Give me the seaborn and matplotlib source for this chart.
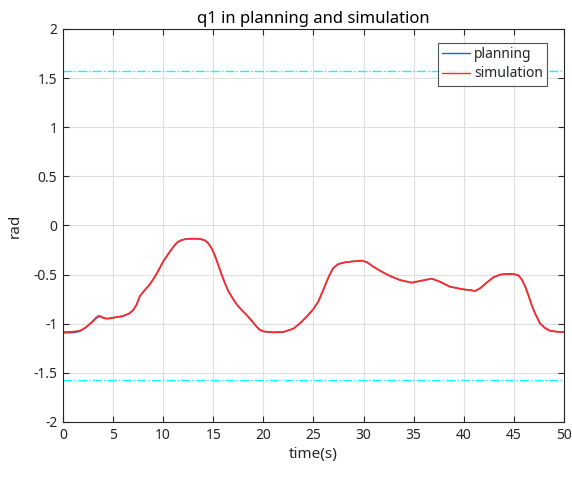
import numpy as np
import pandas as pd
import matplotlib
matplotlib.use("Agg")
import matplotlib.pyplot as plt
import seaborn as sns

# Joint q1 trajectory (rad) sampled over time (s)
time_s = [0.03, 0.53, 1.03, 1.36, 1.70, 2.03, 2.36, 2.69, 3.03, 3.29, 3.53, 3.76,
          4.03, 4.36, 4.69, 5.02, 5.52, 6.02, 6.35, 6.69, 7.02, 7.35, 7.68, 8.18,
          8.68, 9.18, 9.61, 10.0, 10.51, 11.01, 11.41, 11.84, 12.34, 13.0, 13.67,
          14.17, 14.50, 14.84, 15.17, 15.50, 15.83, 16.17, 16.50, 16.83, 17.33,
          17.83, 18.33, 18.83, 19.33, 19.66, 20.16, 21.0, 22.0, 23.0, 23.65, 24.32,
          24.98, 25.48, 25.98, 26.31, 26.65, 26.98, 27.48, 28.15, 28.97, 29.81,
          30.31, 30.97, 31.64, 32.30, 32.97, 33.63, 34.80, 35.63, 36.79, 37.62,
          38.62, 39.95, 40.62, 41.12, 41.62, 42.28, 42.95, 43.61, 44.28, 44.94,
          45.44, 45.78, 46.11, 46.44, 46.77, 47.11, 47.60, 48.10, 48.60, 49.27,
          49.87, 50.0]
simulation = [-1.084, -1.084, -1.081, -1.077, -1.070, -1.053, -1.030, -1.003, -0.972,
              -0.945, -0.928, -0.928, -0.941, -0.948, -0.945, -0.938, -0.931, -0.921,
              -0.907, -0.891, -0.860, -0.806, -0.718, -0.656, -0.599, -0.521, -0.443,
              -0.368, -0.290, -0.219, -0.171, -0.148, -0.137, -0.134, -0.137, -0.151,
              -0.181, -0.232, -0.307, -0.402, -0.497, -0.589, -0.667, -0.724, -0.802,
              -0.860, -0.911, -0.969, -1.030, -1.064, -1.081, -1.087, -1.084, -1.050,
              -0.996, -0.928, -0.853, -0.775, -0.656, -0.572, -0.494, -0.433, -0.392,
              -0.375, -0.365, -0.358, -0.372, -0.419, -0.460, -0.497, -0.528, -0.555,
              -0.582, -0.565, -0.541, -0.572, -0.623, -0.650, -0.657, -0.667, -0.640,
              -0.582, -0.528, -0.500, -0.494, -0.494, -0.507, -0.548, -0.616, -0.707,
              -0.809, -0.894, -0.996, -1.043, -1.071, -1.081, -1.084, -1.085]
planning = [-1.092, -1.092, -1.091, -1.086, -1.077, -1.058, -1.032, -1.001, -0.967,
            -0.938, -0.920, -0.922, -0.938, -0.948, -0.946, -0.938, -0.931, -0.921,
            -0.907, -0.891, -0.860, -0.806, -0.718, -0.656, -0.599, -0.521, -0.443,
            -0.368, -0.290, -0.219, -0.171, -0.148, -0.137, -0.134, -0.137, -0.151,
            -0.181, -0.232, -0.307, -0.402, -0.497, -0.589, -0.667, -0.724, -0.802,
            -0.860, -0.911, -0.969, -1.030, -1.064, -1.081, -1.087, -1.084, -1.050,
            -0.996, -0.928, -0.853, -0.775, -0.656, -0.572, -0.494, -0.433, -0.392,
            -0.375, -0.365, -0.358, -0.372, -0.419, -0.460, -0.497, -0.528, -0.555,
            -0.582, -0.565, -0.541, -0.572, -0.623, -0.650, -0.657, -0.667, -0.640,
            -0.582, -0.528, -0.500, -0.494, -0.494, -0.507, -0.548, -0.616, -0.707,
            -0.809, -0.894, -0.996, -1.043, -1.071, -1.081, -1.084, -1.085]
joint_limit = np.pi / 2

x_ticks = list(range(0, 51, 5))
y_ticks = [-2, -1.5, -1, -0.5, 0, 0.5, 1, 1.5, 2]
y_tick_labels = ["-2", "-1.5", "-1", "-0.5", "0", "0.5", "1", "1.5", "2"]

df = pd.concat([
    pd.DataFrame({"time": time_s, "q1": planning, "series": "planning"}),
    pd.DataFrame({"time": time_s, "q1": simulation, "series": "simulation"}),
])

sns.set_theme(style="white")
plt.rcParams["font.family"] = ["Noto Sans", "DejaVu Sans"]

axis_color = "#262626"
fig = plt.figure(figsize=(5.72, 4.79), dpi=100)
ax = fig.add_axes([0.110, 0.119, 0.876, 0.8205])

sns.lineplot(data=df, x="time", y="q1", hue="series",
             palette={"planning": "#0072BD", "simulation": "#FF2A2A"},
             size="series", sizes={"planning": 1.0, "simulation": 1.3},
             ax=ax, sort=False, estimator=None)

for lim in (joint_limit, -joint_limit):
    ax.axhline(lim, color="#00FFFF", linestyle="-.", linewidth=1.0, zorder=1)

ax.set_xlim(0, 50)
ax.set_ylim(-2, 2)
ax.set_xticks(x_ticks)
ax.set_yticks(y_ticks)
ax.set_yticklabels(y_tick_labels)
ax.grid(True, color="#dfdfdf", linewidth=0.8)
ax.set_axisbelow(True)
for side in ax.spines.values():
    side.set_color(axis_color)
    side.set_linewidth(0.8)
ax.tick_params(direction="in", length=4, width=0.8, color=axis_color,
               labelcolor=axis_color, labelsize=10, top=True, right=True,
               bottom=True, left=True, pad=4)

ax.set_title("q1 in planning and simulation", fontsize=12, color="black", pad=4)
ax.set_xlabel("time(s)", fontsize=11, color=axis_color, labelpad=3)
ax.set_ylabel("rad", fontsize=11, color=axis_color, labelpad=8)

handles, labels = ax.get_legend_handles_labels()
leg = ax.legend(handles, labels, loc="upper right", bbox_to_anchor=(0.966, 0.964),
                fontsize=10, frameon=True, fancybox=False, handlelength=2.0,
                handletextpad=0.3, borderpad=0.3, labelspacing=0.3, borderaxespad=0)
leg.get_frame().set_edgecolor(axis_color)
leg.get_frame().set_linewidth(0.8)
for t in leg.get_texts():
    t.set_color(axis_color)
for line in leg.get_lines():
    line.set_linewidth(1.0)

fig.savefig("out.png", dpi=100)
